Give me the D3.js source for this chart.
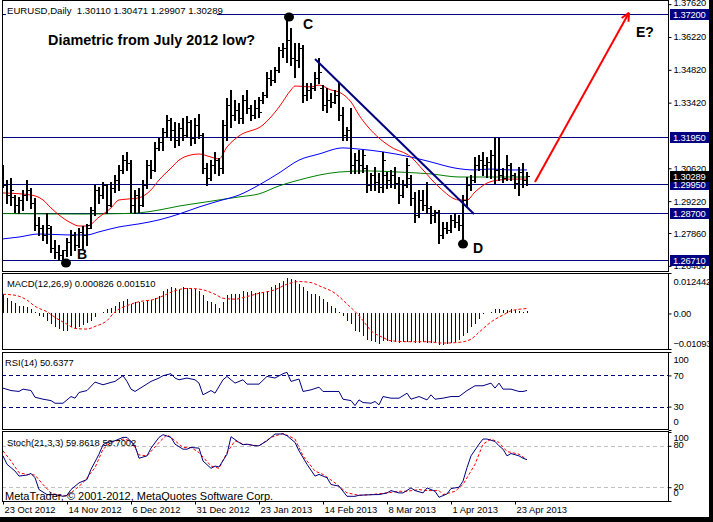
<!DOCTYPE html>
<html><head><meta charset="utf-8">
<script src="https://cdn.jsdelivr.net/npm/d3@7"></script>
<style>body{margin:0;background:#fff}svg{display:block}text{font-family:"Liberation Sans",Arial,sans-serif}</style>
</head><body><svg id="c" width="713" height="522"></svg>
<script>
// ---------- DATA ----------
const opens = [1.3063,1.2991,1.2948,1.2940,1.2906,1.2927,1.2948,1.2970,1.2914,1.2820,1.2808,1.2778,1.2808,1.2722,1.2705,1.2692,1.2714,1.2748,1.2778,1.2735,1.2791,1.2778,1.2820,1.2884,1.2970,1.2948,1.2991,1.2906,1.2978,1.3012,1.3055,1.3097,1.3084,1.2906,1.2948,1.2906,1.2991,1.3076,1.3055,1.3149,1.3174,1.3217,1.3268,1.3225,1.3183,1.3234,1.3204,1.3259,1.3191,1.3247,1.3204,1.3063,1.3021,1.3076,1.3097,1.3063,1.3247,1.3332,1.3290,1.3311,1.3277,1.3353,1.3319,1.3290,1.3319,1.3353,1.3375,1.3447,1.3439,1.3481,1.3567,1.3575,1.3609,1.3533,1.3524,1.3575,1.3375,1.3396,1.3405,1.3447,1.3405,1.3332,1.3353,1.3345,1.3375,1.3290,1.3204,1.3225,1.3076,1.3097,1.3076,1.3063,1.2991,1.3033,1.3004,1.2982,1.3033,1.3012,1.3033,1.2999,1.2948,1.2991,1.3021,1.2935,1.2863,1.2927,1.2906,1.2893,1.2863,1.2876,1.2778,1.2808,1.2799,1.2842,1.2833,1.2820,1.2927,1.2991,1.3012,1.3076,1.3097,1.3076,1.3089,1.3119,1.3055,1.3033,1.3021,1.3076,1.3033,1.2999,1.3046,1.3011];
const highs = [1.3076,1.3012,1.3021,1.2948,1.2940,1.2970,1.3012,1.2978,1.2935,1.2854,1.2820,1.2872,1.2816,1.2756,1.2735,1.2714,1.2765,1.2799,1.2791,1.2808,1.2816,1.2825,1.2897,1.2991,1.2982,1.3004,1.2995,1.3004,1.3033,1.3076,1.3119,1.3132,1.3097,1.2970,1.2978,1.3012,1.3097,1.3097,1.3174,1.3191,1.3234,1.3290,1.3277,1.3259,1.3255,1.3277,1.3285,1.3268,1.3277,1.3294,1.3212,1.3084,1.3097,1.3132,1.3106,1.3268,1.3362,1.3396,1.3353,1.3340,1.3375,1.3396,1.3332,1.3353,1.3366,1.3387,1.3473,1.3481,1.3494,1.3579,1.3596,1.3707,1.3660,1.3596,1.3596,1.3588,1.3426,1.3426,1.3473,1.3533,1.3417,1.3405,1.3383,1.3396,1.3430,1.3323,1.3238,1.3319,1.3127,1.3140,1.3140,1.3076,1.3042,1.3067,1.3042,1.3132,1.3046,1.3055,1.3067,1.3025,1.3012,1.3106,1.3033,1.2961,1.2970,1.2970,1.3004,1.2901,1.2884,1.2884,1.2833,1.2833,1.2863,1.2872,1.2863,1.2948,1.3025,1.3033,1.3110,1.3119,1.3132,1.3110,1.3140,1.3195,1.3191,1.3063,1.3119,1.3084,1.3042,1.3067,1.3084,1.30471];
const lows = [1.2982,1.2914,1.2906,1.2876,1.2872,1.2884,1.2927,1.2893,1.2799,1.2778,1.2756,1.2743,1.2705,1.2680,1.2671,1.2654,1.2688,1.2692,1.2714,1.2727,1.2722,1.2735,1.2808,1.2863,1.2914,1.2935,1.2872,1.2901,1.2961,1.2970,1.3042,1.3055,1.2876,1.2872,1.2876,1.2901,1.2978,1.3021,1.3050,1.3140,1.3140,1.3195,1.3183,1.3153,1.3161,1.3183,1.3195,1.3161,1.3170,1.3191,1.3042,1.2991,1.3012,1.3042,1.3033,1.3042,1.3183,1.3238,1.3268,1.3255,1.3255,1.3298,1.3268,1.3277,1.3281,1.3340,1.3366,1.3417,1.3430,1.3473,1.3537,1.3515,1.3502,1.3451,1.3494,1.3345,1.3353,1.3362,1.3396,1.3426,1.3311,1.3302,1.3323,1.3340,1.3268,1.3183,1.3183,1.3042,1.3042,1.3042,1.3046,1.2961,1.2970,1.2970,1.2961,1.2961,1.2978,1.2982,1.2978,1.2914,1.2940,1.2982,1.2906,1.2833,1.2854,1.2884,1.2872,1.2829,1.2833,1.2744,1.2765,1.2786,1.2791,1.2812,1.2799,1.2739,1.2897,1.2970,1.3004,1.3055,1.3033,1.3025,1.3021,1.2999,1.3012,1.3004,1.3012,1.3012,1.2978,1.2948,1.2982,1.29907];
const closes = [1.2991,1.2948,1.2970,1.2906,1.2927,1.2948,1.2970,1.2914,1.2820,1.2808,1.2778,1.2820,1.2722,1.2705,1.2692,1.2714,1.2748,1.2778,1.2735,1.2791,1.2778,1.2808,1.2884,1.2970,1.2948,1.2991,1.2906,1.2978,1.3012,1.3055,1.3097,1.3084,1.2906,1.2948,1.2906,1.2991,1.3076,1.3055,1.3149,1.3174,1.3217,1.3268,1.3225,1.3183,1.3234,1.3204,1.3259,1.3191,1.3247,1.3204,1.3063,1.3021,1.3076,1.3097,1.3063,1.3247,1.3332,1.3290,1.3311,1.3277,1.3353,1.3319,1.3290,1.3319,1.3302,1.3375,1.3447,1.3439,1.3481,1.3567,1.3575,1.3609,1.3533,1.3524,1.3575,1.3375,1.3396,1.3405,1.3447,1.3473,1.3332,1.3353,1.3345,1.3375,1.3290,1.3204,1.3225,1.3076,1.3097,1.3076,1.3119,1.2991,1.3033,1.3004,1.2982,1.3097,1.3012,1.3033,1.2999,1.2948,1.2991,1.3076,1.2935,1.2863,1.2927,1.2906,1.2893,1.2863,1.2876,1.2778,1.2808,1.2799,1.2842,1.2833,1.2820,1.2927,1.2991,1.3012,1.3076,1.3097,1.3076,1.3089,1.3119,1.3055,1.3033,1.3021,1.3076,1.3033,1.2999,1.3046,1.3012,1.30289];

const redMAIdx = [0,7,10,12,14,17,19,21,24,27,29,32,34,37,39,42,44,47,49,52,54,56,59,65,69,72,73,77,79,82,84,87,89,94,97,102,105,109,114,116,118,121,124,127,131];
const redMA    = [1.2957,1.2948,1.2927,1.2893,1.2863,1.2829,1.2816,1.2816,1.2854,1.2893,1.2927,1.2932,1.2936,1.2970,1.3012,1.3063,1.3097,1.3119,1.3123,1.3110,1.3102,1.3153,1.3200,1.3247,1.3323,1.3396,1.3413,1.3409,1.3417,1.3396,1.3387,1.3345,1.3289,1.3191,1.3153,1.3110,1.3055,1.2982,1.2927,1.2927,1.2961,1.2999,1.3012,1.3016,1.3016];
const blueMAIdx = [0,4,9,16,21,24,29,34,39,44,49,54,59,64,69,74,79,85,89,95,102,107,113,118,122,127,131];
const blueMA    = [1.2761,1.2769,1.2782,1.2778,1.2778,1.2791,1.2812,1.2825,1.2842,1.2867,1.2897,1.2923,1.2948,1.2991,1.3042,1.3097,1.3123,1.3149,1.3144,1.3132,1.3110,1.3089,1.3063,1.3055,1.3059,1.3055,1.3055];
const greenMAIdx = [0,20,30,34,39,44,49,54,59,64,69,74,79,84,91,99,107,114,122,131];
const greenMA    = [1.2869,1.2867,1.2869,1.2872,1.2884,1.2901,1.2914,1.2927,1.2940,1.2953,1.2987,1.3012,1.3033,1.3046,1.3051,1.3046,1.3038,1.3025,1.3025,1.3025];

const hLevels = [1.3720,1.3195,1.2995,1.2870,1.2671];
const priceTicks = [1.37620,1.36220,1.34820,1.33420,1.30620,1.29220,1.27860,1.26460];
const lastPrice = 1.30289;
const header = "EURUSD,Daily  1.30110 1.30471 1.29907 1.30289";
const title = "Diametric from July 2012 low?";

const trendFrom = [78, 1.3528], trendTo = [117.75, 1.2867];
const arrowFrom = [133, 1.3004], arrowTo = [156.5, 1.3725];
const markerLabels = ["C","B","D"];
const markerIdx = [71.5, 15.75, 115];
const markerPrice = [1.3707, 1.2658, 1.2739];

const dateIdx = [0,16,32,48,64,80,96,112,128];
const dateLabels = ["23 Oct 2012","14 Nov 2012","6 Dec 2012","31 Dec 2012","23 Jan 2013","14 Feb 2013","8 Mar 2013","1 Apr 2013","23 Apr 2013"];

const macdHist = [0.0059,0.0049,0.0039,0.0031,0.0024,0.0022,0.0021,0.0015,0.0005,-0.0007,-0.0012,-0.0022,-0.0033,-0.0043,-0.0048,-0.0053,-0.0053,-0.0043,-0.0046,-0.0043,-0.0036,-0.0028,-0.0022,-0.0012,0.0001,0.0005,0.0013,0.0018,0.0024,0.0034,0.0039,0.0044,0.0029,0.0034,0.0034,0.0036,0.0039,0.0042,0.0046,0.0054,0.0070,0.0075,0.0080,0.0077,0.0075,0.0080,0.0078,0.0078,0.0075,0.0070,0.0056,0.0039,0.0034,0.0029,0.0018,0.0034,0.0056,0.0059,0.0059,0.0059,0.0070,0.0067,0.0070,0.0062,0.0065,0.0065,0.0070,0.0080,0.0087,0.0095,0.0101,0.0108,0.0106,0.0104,0.0090,0.0080,0.0070,0.0059,0.0059,0.0054,0.0044,0.0034,0.0024,0.0018,0.0005,-0.0007,-0.0022,-0.0033,-0.0053,-0.0058,-0.0069,-0.0081,-0.0084,-0.0087,-0.0094,-0.0084,-0.0084,-0.0087,-0.0087,-0.0091,-0.0087,-0.0087,-0.0089,-0.0091,-0.0091,-0.0089,-0.0091,-0.0091,-0.0091,-0.0098,-0.0098,-0.0094,-0.0091,-0.0087,-0.0081,-0.0069,-0.0061,-0.0043,-0.0031,-0.0018,-0.0003,0.0002,0.0003,0.0015,0.0013,0.0011,0.0010,0.0015,0.0011,0.0008,0.0005,0.0008];
const macdSigIdx = [0,3,6,8,11,13,16,18,21,23,26,28,31,34,38,40,43,46,49,53,55,58,61,64,68,71,74,77,79,83,86,89,90,92,95,97,102,106,110,114,117,119,121,123,125,127,131];
const macdSig    = [0.0059,0.0056,0.0041,0.0022,0.0005,-0.0012,-0.0033,-0.0046,-0.0048,-0.0040,-0.0022,0.0005,0.0024,0.0036,0.0044,0.0054,0.0070,0.0077,0.0075,0.0059,0.0047,0.0044,0.0052,0.0062,0.0073,0.0090,0.0098,0.0095,0.0085,0.0062,0.0029,-0.0007,-0.0022,-0.0053,-0.0074,-0.0084,-0.0087,-0.0087,-0.0091,-0.0089,-0.0079,-0.0058,-0.0036,-0.0018,-0.0005,0.0008,0.00151];
const macdLabel = "MACD(12,26,9) 0.000826 0.001510";

const rsiIdx = [0,2,4,5,7,8,10,12,13,15,17,18,19,21,23,25,27,28,30,31,32,33,35,37,39,40,42,43,44,46,48,49,50,52,53,55,56,58,60,61,64,66,68,70,71,72,74,75,77,79,80,84,85,87,88,89,90,92,93,94,95,97,99,101,102,104,106,107,108,110,112,114,116,118,120,122,123,124,125,127,129,130,131];
const rsiVal = [53.7,50.6,49.4,52.4,50.6,42,39.5,37.7,34.3,34.3,42.9,40.8,48.1,50.6,61.4,58,61,62.3,69.6,62.3,52.4,49.4,55.8,62.3,66.6,69.6,72.2,66.6,64.4,66.6,64.4,60.1,45.1,50.6,47.2,64.4,68.7,60.1,64.4,58.8,58.8,68.7,66.6,72.2,73.9,62.3,65.3,49.4,51.5,54.9,49.4,49.4,39.5,37.7,31.3,38.6,35.2,34.3,36.5,32.2,42.9,40.8,40.8,47.2,39.5,42.9,38.6,45.1,39.5,40.8,42.9,42.9,50.6,56.7,56.7,60.1,53.7,60.1,52.4,52.4,49.4,49.4,50.6377];
const rsiLevels = [70,30];
const rsiLabel = "RSI(14) 50.6377";

const stochIdx = [0,1,3,4,6,7,8,9,11,13,15,16,17,19,21,22,24,25,26,28,30,31,33,34,36,37,39,40,42,43,45,46,47,49,50,52,53,54,56,57,59,60,61,63,64,66,68,70,71,73,74,76,78,79,81,82,84,86,88,89,93,94,96,97,99,100,102,103,105,106,107,108,109,111,112,114,115,116,117,119,120,121,123,124,125,126,127,129,130,131];
const stochMain = [65.4,53.2,43.4,36.1,37.6,40,33.7,16.6,9.3,9.3,6.8,8.3,16.6,26.3,31.2,45.9,67.8,81.5,84.9,87.3,92.2,92.2,80,62,65.4,76.6,92.2,96.1,92.2,82.4,75.1,75.1,77.6,76.6,58,47.3,50.7,49.3,67.8,93.2,84.9,81.5,82.4,80,80,87.3,97.1,97.1,94.6,84.9,72.7,53.2,36.1,38.5,33.7,23.9,21.5,6.8,6.8,8.3,9.3,9.3,11.7,15.1,11.7,11.7,19,15.1,11.7,19,16.6,14.1,5.4,10.2,18,20,28.8,48.3,65.4,82.4,89.8,89.8,86.3,80,75.1,65.4,68.8,65.4,62,59.8618];
const stochSigIdx = [0,2,4,6,8,10,12,14,16,18,20,23,25,27,30,32,34,36,39,41,43,45,47,49,52,54,56,58,60,64,67,70,73,75,78,80,83,86,89,92,96,99,101,104,106,109,110,113,115,118,120,122,124,126,129,131];
const stochSig = [72.7,58,41,38.5,37.6,23.9,11.7,8.3,6.8,16.6,26.3,48.3,75.1,84.9,89.8,87.3,66.8,65.4,84.9,96.1,87.3,77.6,77.6,70.2,50.7,47.3,70.2,87.3,82.4,80,92.2,98,89.8,65.4,43.4,38.5,26.3,11.7,8.3,9.3,11.7,14.1,14.1,16.6,15.1,15.1,9.3,14.1,23.9,53.2,82.4,89.8,84.9,71.7,67.8,59.7002];
const stochLevels = [80,20];
const stochLabel = "Stoch(21,3,3) 59.8618 59.7002";
const copyright = "MetaTrader, \u00A9 2001-2012, MetaQuotes Software Corp.";

// ---------- DRAW ----------
const W = 713, H = 522, PL = 2, PR = 668;
const NAVY = "#000080";
const FS = 9.4;
const svg = d3.select("#c");
svg.append("rect").attr("width", W).attr("height", H).attr("fill", "#fff");

const x = d3.scaleLinear().domain([0, 131]).range([3, 527]);
const yP = d3.scaleLinear().domain([1.26241, 1.37797]).range([271, 0]);
const yM = d3.scaleLinear().domain([-0.010936, 0.012442]).range([349, 273]);
const yR = d3.scaleLinear().domain([0, 100]).range([430, 352]);
const yS = d3.scaleLinear().domain([0, 100]).range([501, 432]);

const panels = [[0, 271], [273, 349], [352, 429], [431, 501]];
const defs = svg.append("defs");
panels.forEach((p, k) => {
  defs.append("clipPath").attr("id", "clip" + k).append("rect")
    .attr("x", PL).attr("y", p[0]).attr("width", PR - PL).attr("height", p[1] - p[0]);
});
const g = panels.map((p, k) => svg.append("g").attr("clip-path", `url(#clip${k})`));

// ----- main panel -----
const gm = g[0];
gm.selectAll("line.h").data(hLevels).join("line")
  .attr("x1", PL).attr("x2", PR).attr("y1", d => Math.round(yP(d)) + 0.5).attr("y2", d => Math.round(yP(d)) + 0.5)
  .attr("stroke", NAVY).attr("stroke-width", 1);

const maLine = (idx, vals, color) => {
  const pts = idx.map((d, i) => [x(d), yP(vals[i])]);
  gm.append("path").attr("d", d3.line().curve(d3.curveMonotoneX)(pts))
    .attr("fill", "none").attr("stroke", color).attr("stroke-width", 1);
};
maLine(greenMAIdx, greenMA, "#008000");
maLine(blueMAIdx, blueMA, "#0000ff");
maLine(redMAIdx, redMA, "#ff0000");

const bars = gm.append("g").attr("stroke", "#000").attr("shape-rendering", "crispEdges");
opens.forEach((o, i) => {
  const xi = x(i);
  bars.append("line").attr("x1", xi).attr("x2", xi).attr("y1", Math.round(yP(highs[i]))).attr("y2", Math.round(yP(lows[i])) + 1).attr("stroke-width", 2);
  bars.append("line").attr("x1", xi - 3).attr("x2", xi - 1).attr("y1", Math.round(yP(o)) + 0.5).attr("y2", Math.round(yP(o)) + 0.5).attr("stroke-width", 1);
  bars.append("line").attr("x1", xi + 1).attr("x2", xi + 3).attr("y1", Math.round(yP(closes[i])) + 0.5).attr("y2", Math.round(yP(closes[i])) + 0.5).attr("stroke-width", 1);
});

gm.append("line").attr("x1", x(trendFrom[0])).attr("y1", yP(trendFrom[1]))
  .attr("x2", x(trendTo[0])).attr("y2", yP(trendTo[1])).attr("stroke", NAVY).attr("stroke-width", 2);

const ax1 = x(arrowFrom[0]), ay1 = yP(arrowFrom[1]), ax2 = x(arrowTo[0]), ay2 = yP(arrowTo[1]);
gm.append("line").attr("x1", ax1).attr("y1", ay1).attr("x2", ax2).attr("y2", ay2).attr("stroke", "#ff0000").attr("stroke-width", 2);
const ang = Math.atan2(ay1 - ay2, ax1 - ax2);
[-0.45, 0.45].forEach(da => {
  gm.append("line").attr("x1", ax2).attr("y1", ay2)
    .attr("x2", ax2 + 9 * Math.cos(ang + da)).attr("y2", ay2 + 9 * Math.sin(ang + da))
    .attr("stroke", "#ff0000").attr("stroke-width", 2);
});

const labelOffsets = [[14, 12], [11, -4], [10, 9]];
markerLabels.forEach((t, k) => {
  const cx = x(markerIdx[k]), cy = yP(markerPrice[k]);
  gm.append("ellipse").attr("cx", cx).attr("cy", cy).attr("rx", 5).attr("ry", 4.5).attr("fill", "#000");
  gm.append("text").attr("x", cx + labelOffsets[k][0]).attr("y", cy + labelOffsets[k][1])
    .attr("font-size", 14).attr("font-weight", "bold").text(t);
});
gm.append("text").attr("x", ax2 + 7).attr("y", ay2 + 24).attr("font-size", 14).attr("font-weight", "bold").text("E?");

gm.append("text").attr("x", 48).attr("y", 45).attr("font-size", 14.4).attr("font-weight", "bold").text(title);
gm.append("rect").attr("x", 6).attr("y", 4).attr("width", 211).attr("height", 12).attr("fill", "#fff");
gm.append("text").attr("x", 7).attr("y", 14).attr("font-size", 9.6).style("white-space", "pre").text(header);

// ----- MACD -----
const gmac = g[1];
gmac.append("g").attr("shape-rendering", "crispEdges").selectAll("line").data(macdHist).join("line")
  .attr("x1", (d, i) => x(i) + 0.5).attr("x2", (d, i) => x(i) + 0.5)
  .attr("y1", Math.round(yM(0))).attr("y2", d => Math.round(yM(d))).attr("stroke", NAVY).attr("stroke-width", 1);
gmac.append("path").attr("d", d3.line().curve(d3.curveMonotoneX)(macdSigIdx.map((d, i) => [x(d), yM(macdSig[i])])))
  .attr("fill", "none").attr("stroke", "#ff0000").attr("stroke-width", 1).attr("stroke-dasharray", "3,2");
gmac.append("text").attr("x", 7).attr("y", 287).attr("font-size", FS).text(macdLabel);

// ----- RSI -----
const gr = g[2];
gr.selectAll("line.l").data(rsiLevels).join("line")
  .attr("x1", PL).attr("x2", PR).attr("y1", d => Math.round(yR(d)) + 0.5).attr("y2", d => Math.round(yR(d)) + 0.5)
  .attr("stroke", NAVY).attr("stroke-dasharray", "4,3");
gr.append("path").attr("d", d3.line()(rsiIdx.map((d, i) => [x(d), yR(rsiVal[i])])))
  .attr("fill", "none").attr("stroke", NAVY).attr("stroke-width", 1);
gr.append("text").attr("x", 5).attr("y", 366).attr("font-size", FS).text(rsiLabel);

// ----- Stoch -----
const gs = g[3];
gs.selectAll("line.l").data(stochLevels).join("line")
  .attr("x1", PL).attr("x2", PR).attr("y1", d => Math.round(yS(d)) + 0.5).attr("y2", d => Math.round(yS(d)) + 0.5)
  .attr("stroke", "#c0c0c0").attr("stroke-dasharray", "4,3");
gs.append("path").attr("d", d3.line()(stochSigIdx.map((d, i) => [x(d), yS(stochSig[i])])))
  .attr("fill", "none").attr("stroke", "#ff0000").attr("stroke-width", 1).attr("stroke-dasharray", "3,2");
gs.append("path").attr("d", d3.line()(stochIdx.map((d, i) => [x(d), yS(stochMain[i])])))
  .attr("fill", "none").attr("stroke", NAVY).attr("stroke-width", 1);
gs.append("text").attr("x", 7).attr("y", 446).attr("font-size", FS).text(stochLabel);
gs.append("text").attr("x", 5).attr("y", 500).attr("font-size", 11).text(copyright);

// ----- frames -----
panels.forEach(p => {
  svg.append("rect").attr("x", PL + 0.5).attr("y", p[0] + 0.5).attr("width", PR - PL).attr("height", p[1] - p[0])
    .attr("fill", "none").attr("stroke", "#000").attr("stroke-width", 1);
});

// ----- axes -----
function styleAxis(sel) {
  sel.select(".domain").remove();
  sel.selectAll("text").attr("font-size", FS).attr("fill", "#000").attr("font-family", '"Liberation Sans",Arial,sans-serif').attr("letter-spacing", "-0.2");
  sel.selectAll("line").attr("stroke", "#000");
}
const fmt5 = d3.format(".5f");
const axP = svg.append("g").attr("transform", `translate(${PR + 0.5},0)`)
  .call(d3.axisRight(yP).tickValues(priceTicks).tickSize(3).tickPadding(2).tickFormat(fmt5));
styleAxis(axP);
axP.selectAll(".tick").filter(d => d > 1.375).select("text").attr("dy", "0.1em");

// level boxes
function priceBox(v, fill) {
  const yy = Math.round(yP(v)) + 0.5;
  svg.append("rect").attr("x", 670).attr("y", yy - 5.5).attr("width", 40).attr("height", 11).attr("fill", fill);
  svg.append("text").attr("x", 673).attr("y", yy + 3.5).attr("font-size", FS).attr("letter-spacing", "-0.2").attr("fill", "#fff").text(fmt5(v));
}
hLevels.forEach(v => priceBox(v, NAVY));
priceBox(lastPrice, "#000");

const macdFmt = d => d === 0 ? "0.00" : d3.format(".6f")(d);
const axM = svg.append("g").attr("transform", `translate(${PR + 0.5},0)`)
  .call(d3.axisRight(yM).tickValues([0.012442, 0, -0.010936]).tickSize(3).tickPadding(2).tickFormat(macdFmt));
styleAxis(axM);
axM.selectAll(".tick text").attr("dy", d => d > 0.01 ? "1.25em" : d < -0.01 ? "-0.3em" : "0.32em");

const axR = svg.append("g").attr("transform", `translate(${PR + 0.5},0)`)
  .call(d3.axisRight(yR).tickValues([100, 70, 30, 0]).tickSize(3).tickPadding(2));
styleAxis(axR);
axR.selectAll(".tick text").attr("dy", d => d === 100 ? "1.15em" : d === 0 ? "-0.6em" : "0.32em");

const axS = svg.append("g").attr("transform", `translate(${PR + 0.5},0)`)
  .call(d3.axisRight(yS).tickValues([100, 80, 20, 0]).tickSize(3).tickPadding(2));
styleAxis(axS);
axS.selectAll(".tick text").attr("dy", d => d === 100 ? "0.85em" : d === 0 ? "-0.6em" : "0.2em");

const axX = svg.append("g").attr("transform", `translate(0,${501 + 0.5})`)
  .call(d3.axisBottom(x).tickValues(dateIdx).tickSize(3).tickPadding(2).tickFormat((d, i) => dateLabels[i]));
styleAxis(axX);
axX.selectAll(".tick text").attr("text-anchor", "start").attr("dx", 1).attr("letter-spacing", "0");

// window frame
svg.append("rect").attr("x", 709).attr("y", 0).attr("width", 4).attr("height", H).attr("fill", "#000");
svg.append("rect").attr("x", 0).attr("y", 517).attr("width", W).attr("height", 5).attr("fill", "#000");
</script></body></html>
